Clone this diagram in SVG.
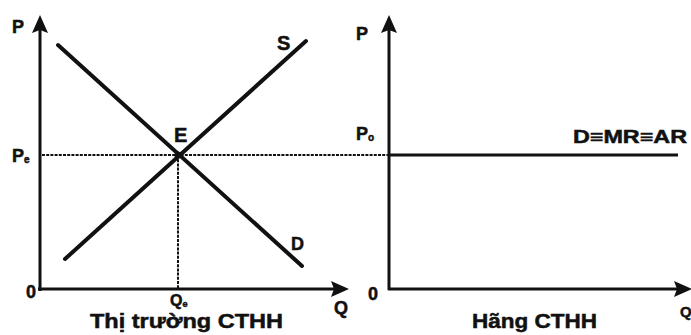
<svg xmlns="http://www.w3.org/2000/svg" width="691" height="335" viewBox="0 0 691 335">
<defs>
<style>
.ax{stroke:#111;stroke-width:3;fill:none}
.ah{fill:#111}
.cv{stroke:#111;stroke-width:4;fill:none;stroke-linecap:round}
.dt{stroke:#111;stroke-width:2;fill:none;stroke-dasharray:3 1.2}
text{font-family:"Liberation Sans",Arial,sans-serif;font-weight:bold;fill:#111;stroke:#111;stroke-width:0.5}
.lb{font-size:18px}
.sb{font-size:10px}
.tt{font-size:20px}
</style>
</defs>
<rect width="691" height="335" fill="#fff"/>
<g id="connectors">
<line class="ax" x1="40" y1="291" x2="40" y2="28"/>
<polygon class="ah" points="40,15 48,33 40,30 32,33"/>
<line class="ax" x1="38" y1="289" x2="336" y2="289"/>
<polygon class="ah" points="349,289 331,297 334,289 331,281"/>
<line class="ax" x1="389" y1="290" x2="389" y2="28"/>
<polygon class="ah" points="389,15 397,33 389,30 381,33"/>
<line class="ax" x1="388" y1="289" x2="680" y2="289"/>
<polygon class="ah" points="692,289 674,297 677,289 674,281"/>
<line class="dt" x1="42" y1="155" x2="389" y2="155"/>
<line class="dt" x1="178" y1="155" x2="178" y2="288"/>
</g>
<g id="demand"><line class="cv" x1="58" y1="45" x2="302" y2="266"/><text class="lb" x="291" y="250">D</text></g>
<g id="supply"><line class="cv" x1="65" y1="259" x2="306" y2="41"/><text class="lb" x="277" y="50" style="font-size:20px">S</text></g>
<g id="E"><circle cx="178" cy="155" r="3.5" fill="#111"/><text class="lb" x="174" y="142" style="font-size:20px">E</text></g>
<g id="firm-demand"><line class="ax" x1="389" y1="155" x2="678" y2="155"/><text class="lb" x="573" y="143" textLength="114" lengthAdjust="spacingAndGlyphs">D≡MR≡AR</text></g>
<g id="left-labels">
<text class="lb" x="12" y="33">P</text>
<text class="lb" x="12" y="162">P<tspan class="sb" dy="1">e</tspan></text>
<text class="lb" x="26" y="298">0</text>
<text class="lb" x="170" y="306" style="font-size:16px">Q<tspan class="sb" dy="1" style="font-size:9px">e</tspan></text>
<text class="lb" x="334" y="314">Q</text>
<text class="tt" x="90" y="328" textLength="193" lengthAdjust="spacingAndGlyphs">Thị trường CTHH</text>
</g>
<g id="right-labels">
<text class="lb" x="356" y="40">P</text>
<text class="lb" x="356" y="140">P<tspan class="sb" dy="1">o</tspan></text>
<text class="lb" x="368" y="300">0</text>
<text class="lb" x="680" y="317" style="font-size:15px">Q</text>
<text class="tt" x="472" y="328" textLength="125" lengthAdjust="spacingAndGlyphs">Hãng CTHH</text>
</g>
</svg>
